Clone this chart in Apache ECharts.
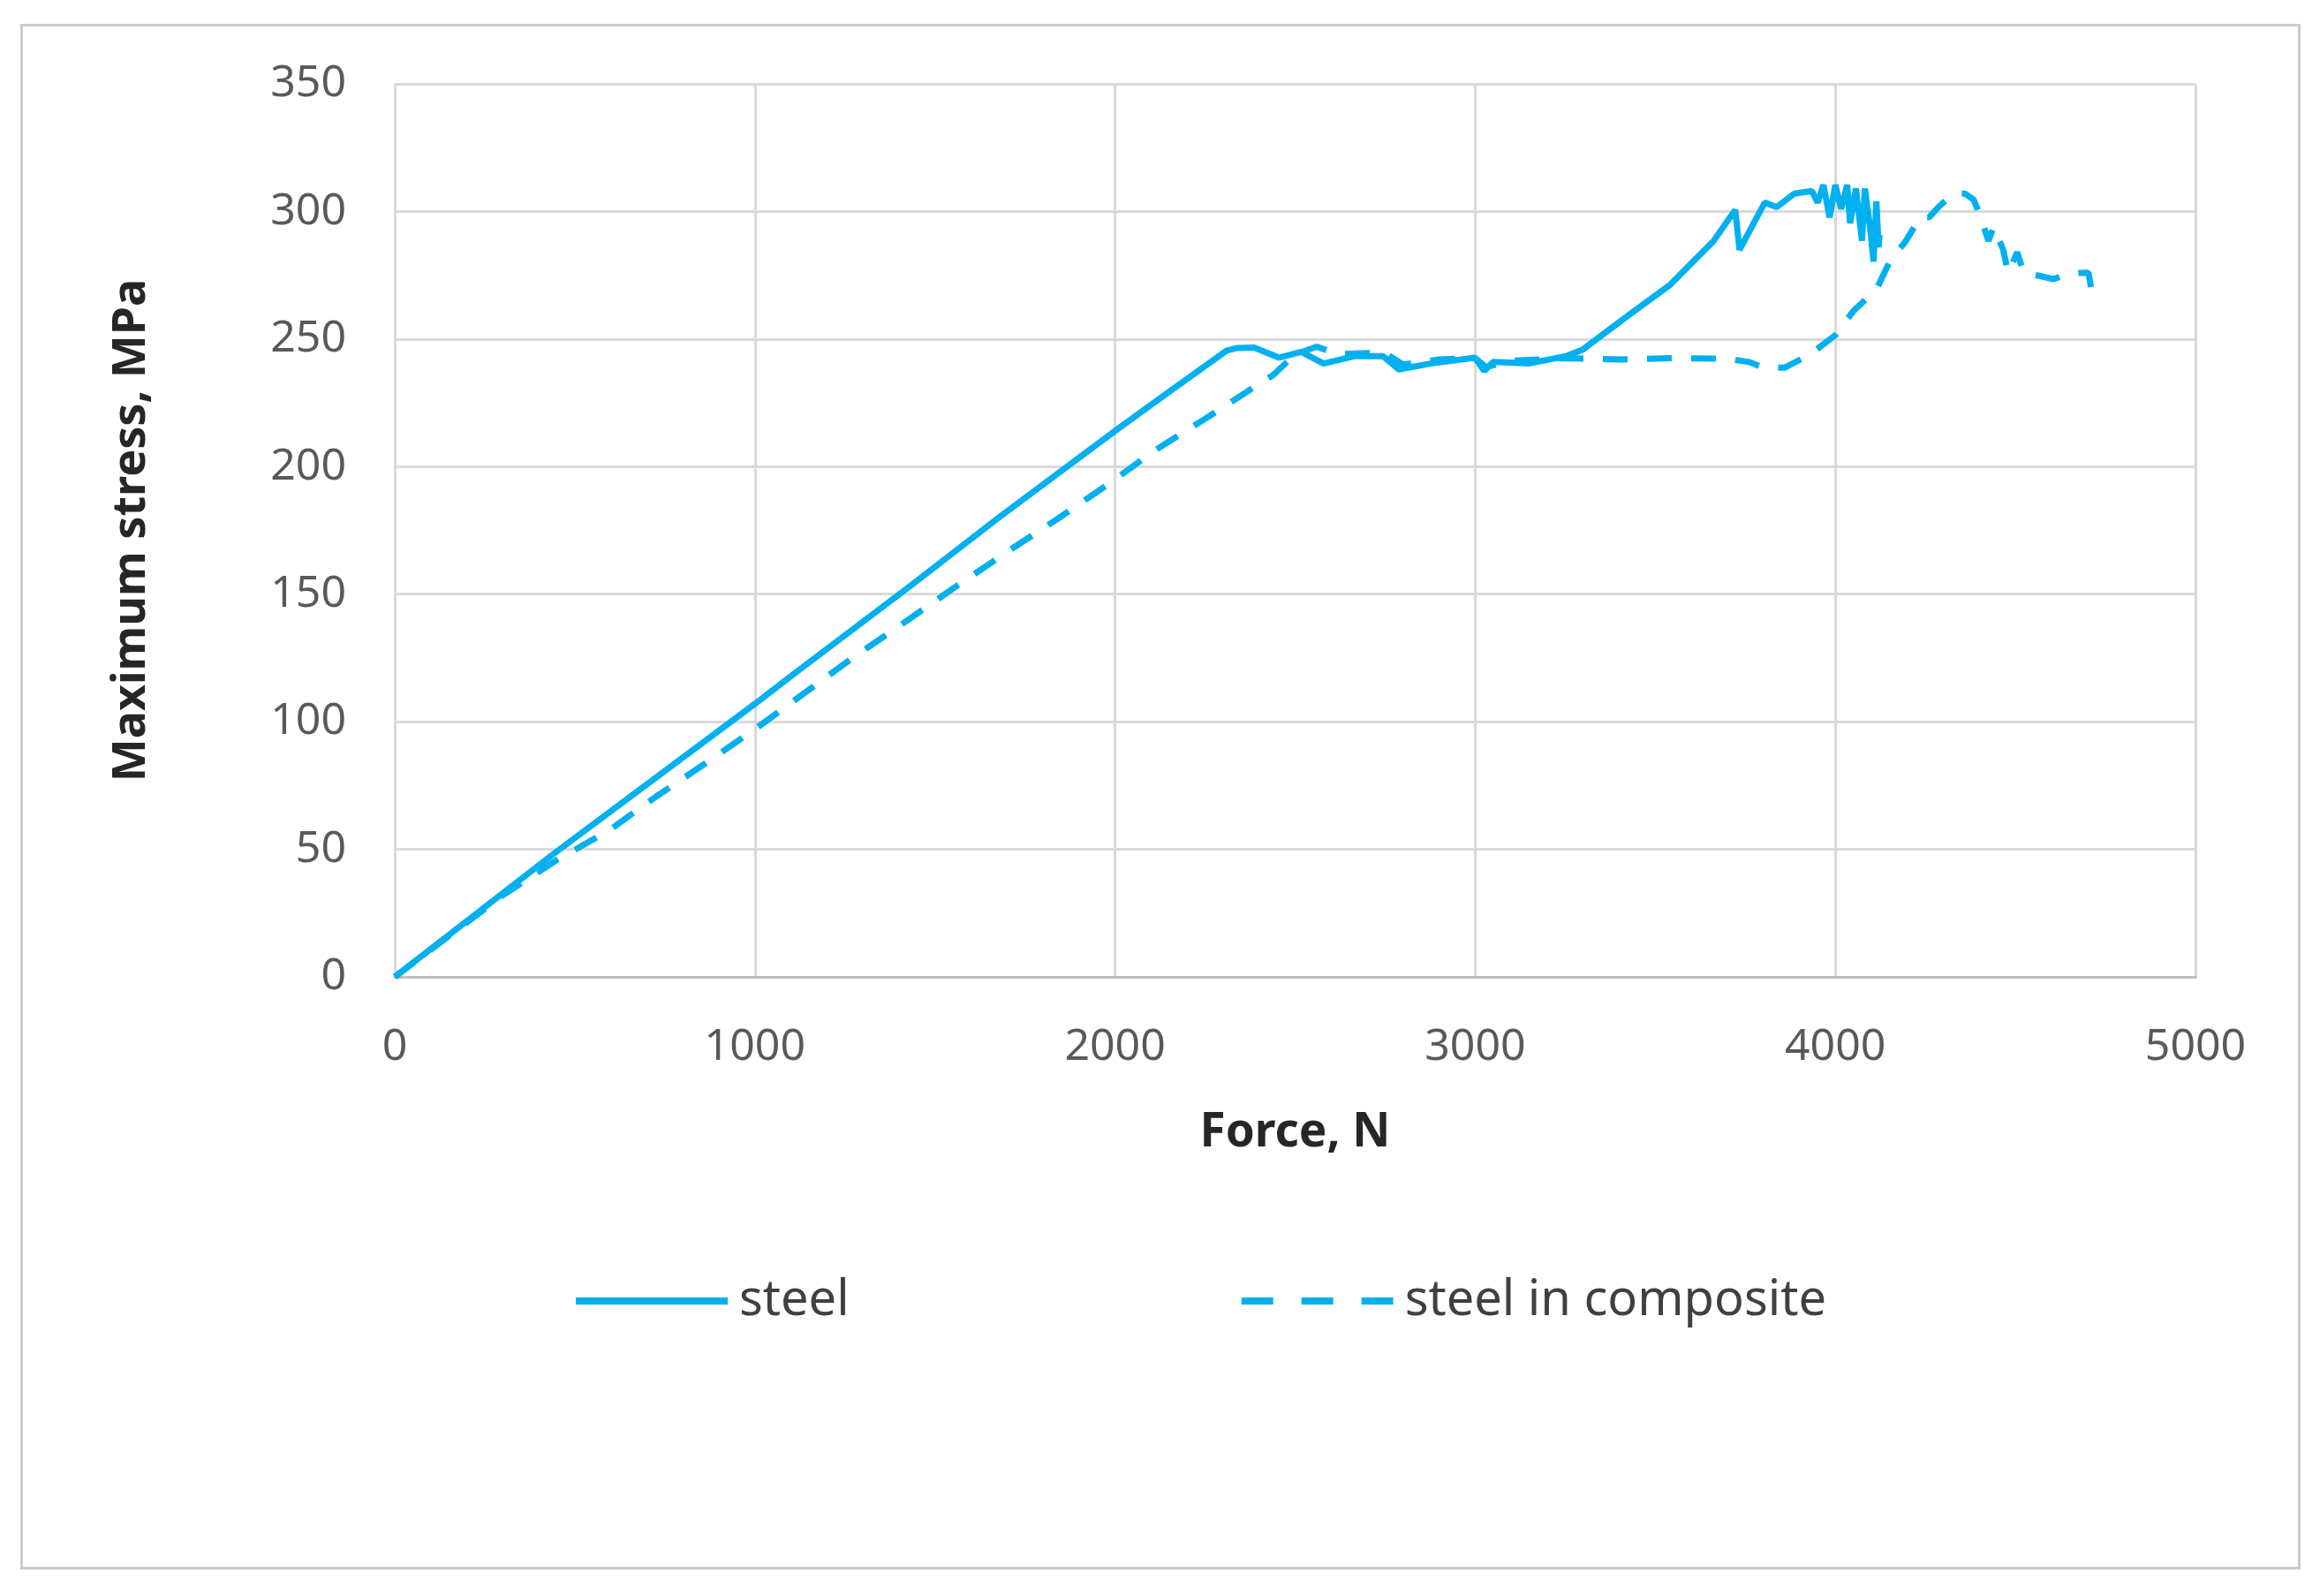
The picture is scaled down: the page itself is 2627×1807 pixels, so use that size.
<!DOCTYPE html>
<html>
<head>
<meta charset="utf-8">
<title>Maximum stress vs force</title>
<script src="https://cdn.jsdelivr.net/npm/echarts@6/dist/echarts.min.js"></script>
<style>
  html, body {
    margin: 0;
    padding: 0;
    background: #ffffff;
  }
  #chart {
    width: 2627px;
    height: 1807px;
  }
  .frame {
    position: absolute;
    left: 23px;
    top: 27px;
    width: 2576px;
    height: 1744px;
    border: 3px solid #cbcbcb;
    pointer-events: none;
  }
</style>
</head>
<body>
<div id="chart"></div>
<div class="frame"></div>
<script>
// values: force (N) and maximum stress (MPa)
const steelForce = [0, 441, 1000, 1105, 1432, 1677, 2000, 2127, 2310, 2340, 2386, 2456, 2517, 2579, 2666, 2744, 2788, 2876, 2999, 3025, 3050, 3148, 3253, 3300, 3416, 3539, 3661, 3722, 3734, 3804, 3837, 3886, 3935, 3951, 3967, 3984, 4000, 4016, 4033, 4041, 4057, 4074, 4082, 4098, 4106, 4114, 4120, 4123]
const steelStress = [0, 48.2, 107, 118.4, 153.3, 180, 214, 227, 245.5, 246.5, 246.7, 242.7, 245, 240.4, 243.3, 243.3, 238.1, 240.4, 242.7, 237.5, 241, 240.4, 243.3, 246, 258.3, 271, 288.3, 300.6, 285, 303.5, 301.7, 307, 308, 303.5, 310.4, 297.7, 310.4, 301, 310.4, 295.4, 309, 288.5, 309, 292, 280.4, 304, 286, 290.8]

const compForce = [0, 300, 452, 596, 727, 866, 1008, 1142, 1277, 1420, 1555, 1694, 1837, 1975, 2110, 2253, 2368, 2440, 2500, 2560, 2620, 2700, 2760, 2800, 2900, 3000, 3030, 3100, 3250, 3400, 3550, 3700, 3760, 3800, 3860, 3930, 4000, 4050, 4114, 4150, 4196, 4237, 4260, 4286, 4327, 4360, 4384, 4401, 4425, 4440, 4466, 4480, 4505, 4523, 4572, 4605, 4654, 4703, 4710, 4720]
const compStress = [0, 32, 46, 57.5, 70.8, 84, 97.9, 111.7, 125.6, 139.4, 152.7, 166, 179.2, 192.5, 206.3, 219, 229.5, 236, 244, 247, 244, 244.5, 243.5, 240, 242, 242.5, 239, 241.5, 242.5, 242, 242.5, 242.3, 241, 238.8, 238.8, 244, 251.5, 261, 269.4, 280, 288.5, 298, 297.7, 301.7, 306.9, 307, 304.6, 298.8, 288.5, 294, 285, 276, 284, 276, 274.6, 273.5, 275.8, 276, 270, 265]

const seriesNames = ['steel', 'steel in composite']

const lineColor = '#00b0f0'
const fontFamily = '"Noto Sans", "Open Sans", sans-serif'

const myChart = echarts.init(document.getElementById('chart'))
myChart.setOption({
  animation: false,
  backgroundColor: '#ffffff',
  textStyle: {
    fontFamily: fontFamily
  },
  grid: {
    left: 447,
    right: 141,
    top: 95,
    bottom: 701,
    containLabel: false
  },
  legend: {
    left: 643,
    top: 1440,
    itemWidth: 172,
    itemHeight: 14,
    itemGap: 440,
    itemStyle: {
      opacity: 0,
      borderWidth: 0
    },
    lineStyle: {
      width: 8
    },
    textStyle: {
      color: '#404040',
      fontSize: 56,
      padding: [0, 0, 0, 8]
    },
    data: [
      { name: seriesNames[0] },
      { name: seriesNames[1], lineStyle: { width: 8, type: [36, 32] } }
    ]
  },
  xAxis: {
    type: 'value',
    min: 0,
    max: 5000,
    interval: 1000,
    name: 'Force, N',
    nameLocation: 'middle',
    nameGap: 150,
    nameTextStyle: {
      color: '#262626',
      fontSize: 53,
      fontWeight: 'bold'
    },
    // 坐标轴
    axisLine: {
      lineStyle: {
        color: '#bfbfbf',
        width: 3
      }
    },
    axisTick: { show: false },
    axisLabel: {
      color: '#595959',
      fontSize: 50,
      margin: 55,
      formatter: value => String(value)
    },
    // 分格线
    splitLine: {
      show: true,
      lineStyle: {
        color: '#d9d9d9',
        width: 3
      }
    }
  },
  yAxis: {
    type: 'value',
    min: 0,
    max: 350,
    interval: 50,
    name: 'Maximum stress, MPa',
    nameLocation: 'middle',
    nameGap: 272,
    nameTextStyle: {
      color: '#262626',
      fontSize: 52,
      fontWeight: 'bold'
    },
    axisLine: { show: false },
    axisTick: { show: false },
    axisLabel: {
      color: '#595959',
      fontSize: 50,
      margin: 55
    },
    splitLine: {
      lineStyle: {
        color: '#d9d9d9',
        width: 3
      }
    }
  },
  series: [
    {
      name: seriesNames[0],
      type: 'line',
      symbol: 'none',
      data: steelForce.map((f, i) => [f, steelStress[i]]),
      itemStyle: { color: lineColor },
      lineStyle: {
        color: lineColor,
        width: 7
      }
    },
    {
      name: seriesNames[1],
      type: 'line',
      symbol: 'none',
      data: compForce.map((f, i) => [f, compStress[i]]),
      itemStyle: { color: lineColor },
      lineStyle: {
        color: lineColor,
        width: 7,
        type: [28, 22]
      }
    }
  ]
})
</script>
</body>
</html>
